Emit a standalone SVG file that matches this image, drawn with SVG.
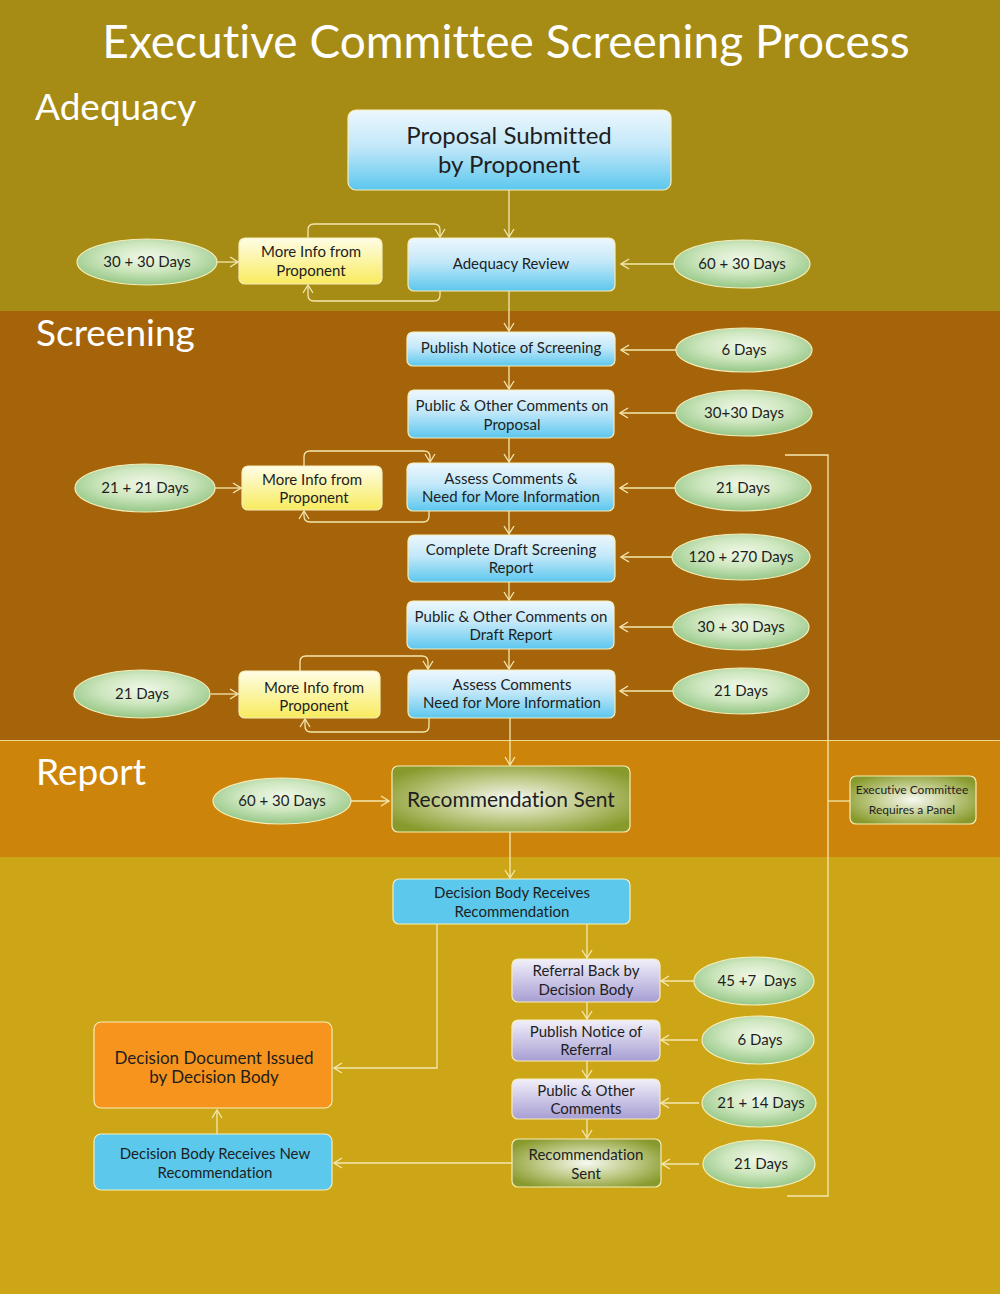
<svg xmlns="http://www.w3.org/2000/svg" width="1000" height="1294" viewBox="0 0 1000 1294">
<defs>
<linearGradient id="gBlue" x1="0" y1="0" x2="0" y2="1"><stop offset="0" stop-color="#EDF7FD"/><stop offset="0.45" stop-color="#C3E8F9"/><stop offset="1" stop-color="#5CC7EE"/></linearGradient>
<linearGradient id="gYellow" x1="0" y1="0" x2="0" y2="1"><stop offset="0" stop-color="#FFFDE6"/><stop offset="1" stop-color="#F8EB5E"/></linearGradient>
<linearGradient id="gPurple" x1="0" y1="0" x2="0" y2="1"><stop offset="0" stop-color="#F2F0FA"/><stop offset="1" stop-color="#A79ED3"/></linearGradient>
<radialGradient id="gGreen" cx="0.5" cy="0.4" r="0.6"><stop offset="0" stop-color="#F0F8E8"/><stop offset="0.5" stop-color="#CFE7C0"/><stop offset="1" stop-color="#95C786"/></radialGradient>
<radialGradient id="gOlive" cx="0.5" cy="0.5" r="0.6"><stop offset="0" stop-color="#F6F9F2"/><stop offset="0.5" stop-color="#C2CC8C"/><stop offset="1" stop-color="#889A2C"/></radialGradient>
<marker id="arr" viewBox="0 0 10 12" refX="9" refY="6" markerWidth="10" markerHeight="12" markerUnits="userSpaceOnUse" orient="auto"><path d="M1,1 L9,6 L1,11" fill="none" stroke="#F3E8B0" stroke-width="1.3"/></marker>
</defs>
<style>
text{font-variant-ligatures:none}
.t{font-family:Lato,"Open Sans","Liberation Sans",sans-serif;fill:#1E1E1E;font-size:15px;text-anchor:middle}
.big{font-size:24px}
.mid{font-size:21px}
.doc{font-size:17px}
.sm{font-size:12px}
.h{font-family:Lato,"Open Sans","Liberation Sans",sans-serif;fill:#FFFFFF;font-size:37px}
.n{stroke:#F6EDB8;stroke-width:1.2}
.b{fill:url(#gBlue)}
.y{fill:url(#gYellow)}
.p{fill:url(#gPurple)}
.o{fill:url(#gOlive)}
.e{fill:url(#gGreen);stroke:#F6EDB8;stroke-width:1.2}
.c{fill:none;stroke:#F3E8B0;stroke-width:1.3}
.ca{fill:none;stroke:#F3E8B0;stroke-width:1.3;marker-end:url(#arr)}
</style>
<!-- bands -->
<rect x="0" y="0" width="1000" height="311" fill="#A68B14"/>
<rect x="0" y="311" width="1000" height="429" fill="#A5640A"/>
<rect x="0" y="740" width="1000" height="117" fill="#CD840B"/>
<rect x="0" y="857" width="1000" height="437" fill="#CCA617"/>
<line x1="0" y1="740.5" x2="1000" y2="740.5" stroke="#F0D890" stroke-width="1"/>
<text class="h" x="506" y="58" style="font-size:46px" text-anchor="middle">Executive Committee Screening Process</text>
<text class="h" x="35" y="120">Adequacy</text>
<text class="h" x="36" y="346">Screening</text>
<text class="h" x="36" y="785">Report</text>

<g id="connectors">
<path class="ca" d="M509,190 V237"/>
<path class="ca" d="M509,291 V331"/>
<path class="ca" d="M509,366 V389"/>
<path class="ca" d="M509,438 V462"/>
<path class="ca" d="M509,511 V534"/>
<path class="ca" d="M509,582 V600"/>
<path class="ca" d="M509,649 V669"/>
<path class="ca" d="M510,718 V765"/>
<path class="ca" d="M510,832 V878"/>
<!-- loops -->
<path class="ca" d="M308,238 V230 Q308,224 314,224 H434 Q440,224 440,230 V237"/>
<path class="ca" d="M440,291 V295 Q440,301 434,301 H314 Q308,301 308,295 V285"/>
<path class="ca" d="M304,466 V457 Q304,451 310,451 H424 Q430,451 430,457 V462"/>
<path class="ca" d="M429,511 V516 Q429,522 423,522 H310 Q304,522 304,516 V511"/>
<path class="ca" d="M300,671 V662 Q300,656 306,656 H422 Q428,656 428,662 V669"/>
<path class="ca" d="M429,718 V726 Q429,732 423,732 H311 Q305,732 305,726 V719"/>
<!-- day arrows -->
<path class="ca" d="M217,262 H238"/>
<path class="ca" d="M674,264 H621"/>
<path class="ca" d="M676,350 H621"/>
<path class="ca" d="M676,413 H620"/>
<path class="ca" d="M675,488 H620"/>
<path class="ca" d="M215,488 H241"/>
<path class="ca" d="M672,557 H621"/>
<path class="ca" d="M673,627 H620"/>
<path class="ca" d="M673,691 H620"/>
<path class="ca" d="M211,694 H238"/>
<path class="ca" d="M351,801 H389"/>
<!-- bracket -->
<path class="c" d="M785,455 H828 V1196 H787"/>
<path class="c" d="M828,801 H850"/>
<!-- bottom -->
<path class="ca" d="M437,924 V1068 H334"/>
<path class="ca" d="M587,920 V958"/>
<path class="ca" d="M587,1002 V1019"/>
<path class="ca" d="M587,1061 V1078"/>
<path class="ca" d="M587,1119 V1138"/>
<path class="ca" d="M694,981 H661"/>
<path class="ca" d="M698,1040 H661"/>
<path class="ca" d="M699,1103 H661"/>
<path class="ca" d="M699,1164 H662"/>
<path class="ca" d="M512,1163 H334"/>
<path class="ca" d="M217,1134 V1110"/>
</g>

<g id="proposal"><rect class="n b" x="348" y="110" width="323" height="80" rx="8"/><text class="t big" x="509" y="144">Proposal Submitted</text><text class="t big" x="509" y="173">by Proponent</text></g>
<g id="adequacy-review"><rect class="n b" x="408" y="238" width="207" height="53" rx="6"/><text class="t" x="511" y="269">Adequacy Review</text></g>
<g id="more-info-1"><rect class="n y" x="239" y="238" width="143" height="46" rx="6"/><text class="t" x="311" y="257">More Info from</text><text class="t" x="311" y="276">Proponent</text></g>
<g id="d-30-30a"><ellipse class="e" cx="147" cy="262" rx="70" ry="23"/><text class="t" x="147" y="267">30 + 30 Days</text></g>
<g id="d-60-30a"><ellipse class="e" cx="742" cy="264" rx="68" ry="24"/><text class="t" x="742" y="269">60 + 30 Days</text></g>

<g id="publish-notice"><rect class="n b" x="407" y="332" width="208" height="34" rx="6"/><text class="t" x="511" y="353">Publish Notice of Screening</text></g>
<g id="d-6a"><ellipse class="e" cx="744" cy="350" rx="68" ry="22"/><text class="t" x="744" y="355">6 Days</text></g>
<g id="public-comments-1"><rect class="n b" x="408" y="390" width="206" height="48" rx="6"/><text class="t" x="512" y="411">Public &amp; Other Comments on</text><text class="t" x="512" y="430">Proposal</text></g>
<g id="d-30-30b"><ellipse class="e" cx="744" cy="413" rx="68" ry="23"/><text class="t" x="744" y="418">30+30 Days</text></g>
<g id="assess-1"><rect class="n b" x="407" y="463" width="207" height="48" rx="6"/><text class="t" x="511" y="484">Assess Comments &amp;</text><text class="t" x="511" y="502">Need for More Information</text></g>
<g id="d-21a"><ellipse class="e" cx="743" cy="488" rx="68" ry="23"/><text class="t" x="743" y="493">21 Days</text></g>
<g id="more-info-2"><rect class="n y" x="242" y="466" width="140" height="44" rx="6"/><text class="t" x="312" y="485">More Info from</text><text class="t" x="314" y="503">Proponent</text></g>
<g id="d-21-21"><ellipse class="e" cx="145" cy="488" rx="70" ry="24"/><text class="t" x="145" y="493">21 + 21 Days</text></g>
<g id="complete-draft"><rect class="n b" x="408" y="535" width="207" height="47" rx="6"/><text class="t" x="511" y="555">Complete Draft Screening</text><text class="t" x="511" y="573">Report</text></g>
<g id="d-120-270"><ellipse class="e" cx="741" cy="557" rx="69" ry="23"/><text class="t" x="741" y="562">120 + 270 Days</text></g>
<g id="public-comments-2"><rect class="n b" x="407" y="601" width="207" height="48" rx="6"/><text class="t" x="511" y="622">Public &amp; Other Comments on</text><text class="t" x="511" y="640">Draft Report</text></g>
<g id="d-30-30c"><ellipse class="e" cx="741" cy="627" rx="68" ry="23"/><text class="t" x="741" y="632">30 + 30 Days</text></g>
<g id="assess-2"><rect class="n b" x="408" y="670" width="207" height="48" rx="6"/><text class="t" x="512" y="690">Assess Comments</text><text class="t" x="512" y="708">Need for More Information</text></g>
<g id="d-21b"><ellipse class="e" cx="741" cy="691" rx="68" ry="23"/><text class="t" x="741" y="696">21 Days</text></g>
<g id="more-info-3"><rect class="n y" x="239" y="671" width="141" height="47" rx="6"/><text class="t" x="314" y="693">More Info from</text><text class="t" x="314" y="711">Proponent</text></g>
<g id="d-21c"><ellipse class="e" cx="142" cy="694" rx="68" ry="24"/><text class="t" x="142" y="699">21 Days</text></g>

<g id="recommendation-sent"><rect class="n o" x="392" y="766" width="238" height="66" rx="6"/><text class="t mid" x="511" y="807">Recommendation Sent</text></g>
<g id="d-60-30b"><ellipse class="e" cx="282" cy="801" rx="69" ry="23"/><text class="t" x="282" y="806">60 + 30 Days</text></g>
<g id="panel"><rect class="n o" x="850" y="776" width="126" height="48" rx="6"/><text class="t sm" x="912" y="794">Executive Committee</text><text class="t sm" x="912" y="814">Requires a Panel</text></g>

<g id="decision-receives"><rect class="n" fill="#5BC8EC" x="393" y="879" width="237" height="45" rx="6"/><text class="t" x="512" y="898">Decision Body Receives</text><text class="t" x="512" y="917">Recommendation</text></g>
<g id="referral-back"><rect class="n p" x="512" y="959" width="148" height="43" rx="6"/><text class="t" x="586" y="976">Referral Back by</text><text class="t" x="586" y="995">Decision Body</text></g>
<g id="d-45-7"><ellipse class="e" cx="754" cy="981" rx="60" ry="24"/><text class="t" x="757" y="986" xml:space="preserve">45 +7  Days</text></g>
<g id="publish-referral"><rect class="n p" x="512" y="1020" width="148" height="41" rx="6"/><text class="t" x="586" y="1037">Publish Notice of</text><text class="t" x="586" y="1055">Referral</text></g>
<g id="d-6b"><ellipse class="e" cx="758" cy="1040" rx="56" ry="24"/><text class="t" x="760" y="1045">6 Days</text></g>
<g id="public-comments-3"><rect class="n p" x="512" y="1079" width="148" height="40" rx="6"/><text class="t" x="586" y="1096">Public &amp; Other</text><text class="t" x="586" y="1114">Comments</text></g>
<g id="d-21-14"><ellipse class="e" cx="759" cy="1103" rx="57" ry="24"/><text class="t" x="761" y="1108">21 + 14 Days</text></g>
<g id="rec-sent-2"><rect class="n o" x="512" y="1139" width="149" height="48" rx="6"/><text class="t" x="586" y="1160">Recommendation</text><text class="t" x="586" y="1179">Sent</text></g>
<g id="d-21d"><ellipse class="e" cx="759" cy="1164" rx="56" ry="24"/><text class="t" x="761" y="1169">21 Days</text></g>
<g id="decision-document"><rect class="n" fill="#F7941D" x="94" y="1022" width="238" height="86" rx="7"/><text class="t doc" x="214" y="1064">Decision Document Issued</text><text class="t doc" x="214" y="1083">by Decision Body</text></g>
<g id="decision-new"><rect class="n" fill="#5BC8EC" x="94" y="1134" width="238" height="56" rx="7"/><text class="t" x="215" y="1159">Decision Body Receives New</text><text class="t" x="215" y="1178">Recommendation</text></g>
</svg>
